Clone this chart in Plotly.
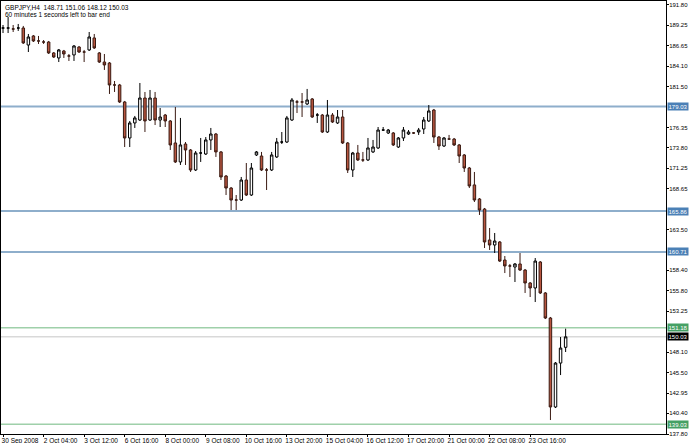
import plotly.graph_objects as go

# ---- data (GBPJPY H4 candles) ----
opens = [188.90, 188.90, 188.78, 188.90, 188.90, 186.76, 187.90, 187.27, 187.14, 187.14,
         185.76, 185.13, 186.01, 185.38, 185.51, 186.51, 185.88, 186.14, 187.65, 185.76,
         184.62, 184.50, 181.73, 181.73, 179.59, 175.06, 176.95, 177.32, 180.09, 177.32,
         180.09, 177.32, 177.95, 177.20, 174.43, 172.04, 174.30, 173.55, 171.03, 173.17,
         173.04, 174.81, 175.56, 173.30, 170.27, 168.76, 167.25, 167.25, 169.77, 167.88,
         172.92, 172.79, 171.03, 171.03, 172.67, 174.55, 174.55, 177.32, 179.59, 179.59,
         179.34, 179.97, 177.95, 177.95, 175.81, 177.95, 176.95, 177.70, 174.43, 171.03,
         173.17, 172.29, 172.29, 173.30, 173.80, 176.06, 175.69, 175.69, 173.92, 175.06,
         175.56, 175.69, 175.81, 176.19, 177.20, 178.58, 175.18, 174.05, 174.93, 174.93,
         174.18, 172.92, 171.28, 169.15, 167.38, 166.12, 162.22, 161.59, 161.97, 159.70,
         158.95, 158.82, 159.20, 158.44, 156.81, 156.18, 159.45, 155.55, 152.40, 141.20,
         146.73, 148.71]
highs = [189.28, 190.29, 189.28, 189.41, 189.16, 188.15, 188.02, 187.90, 187.39, 187.27,
         185.88, 186.26, 186.14, 185.63, 186.76, 186.64, 186.14, 188.40, 188.15, 185.88,
         185.63, 184.62, 182.23, 181.86, 179.72, 177.20, 177.83, 181.98, 180.85, 181.10,
         180.85, 178.83, 178.08, 177.32, 178.96, 177.58, 174.55, 173.67, 173.42, 175.06,
         175.18, 176.32, 175.69, 173.42, 170.40, 168.89, 167.88, 170.15, 171.91, 171.91,
         173.42, 173.30, 171.28, 173.30, 175.06, 175.81, 177.83, 180.09, 179.84, 180.72,
         181.23, 180.09, 178.20, 178.08, 179.84, 178.20, 178.58, 178.58, 174.55, 173.30,
         174.18, 173.30, 175.06, 174.81, 176.44, 176.44, 176.19, 175.81, 175.18, 176.44,
         176.06, 175.81, 176.32, 177.70, 179.21, 178.71, 175.31, 175.18, 175.44, 175.06,
         174.30, 173.04, 171.41, 170.78, 167.50, 166.25, 163.73, 163.10, 162.09, 160.20,
         159.20, 159.32, 160.58, 158.57, 156.93, 159.95, 159.57, 155.67, 152.53, 146.86,
         150.01, 151.06]
lows = [188.27, 188.27, 188.40, 188.53, 186.89, 185.88, 187.14, 186.89, 186.89, 185.63,
        185.13, 184.62, 185.13, 184.75, 184.75, 185.76, 184.62, 186.01, 186.26, 184.50,
        183.62, 180.60, 180.85, 179.46, 173.92, 173.92, 176.32, 177.20, 175.81, 177.20,
        176.69, 176.44, 176.44, 173.55, 171.91, 171.66, 171.66, 170.78, 170.90, 172.04,
        172.92, 173.55, 172.67, 169.77, 167.88, 165.99, 165.99, 167.13, 167.76, 167.76,
        172.79, 170.90, 168.51, 170.90, 172.54, 174.30, 174.43, 177.20, 178.20, 177.70,
        179.21, 177.58, 176.95, 175.69, 175.69, 176.95, 176.82, 174.30, 170.65, 170.15,
        172.16, 172.04, 172.16, 173.17, 173.67, 175.94, 175.56, 174.05, 173.80, 174.68,
        175.44, 175.56, 175.44, 175.56, 177.07, 174.43, 173.55, 173.92, 174.81, 174.05,
        171.91, 170.78, 168.76, 167.00, 165.37, 161.21, 160.96, 160.58, 159.45, 158.06,
        157.56, 156.93, 158.32, 155.55, 155.04, 154.41, 155.42, 152.27, 139.56, 141.07,
        145.22, 148.12]
closes = [188.90, 188.90, 188.78, 188.90, 187.02, 187.77, 187.27, 187.27, 187.14, 185.76,
          185.25, 186.14, 185.63, 185.38, 186.64, 185.88, 185.88, 187.77, 186.39, 184.62,
          184.25, 181.73, 181.73, 179.59, 175.06, 176.95, 177.58, 180.09, 177.20, 180.09,
          177.32, 177.70, 177.20, 174.18, 172.04, 174.18, 173.55, 171.03, 173.17, 173.17,
          174.81, 175.56, 173.30, 170.15, 168.76, 167.25, 167.25, 169.77, 167.88, 171.28,
          173.30, 171.03, 171.03, 172.92, 174.55, 174.55, 177.58, 179.84, 179.59, 179.59,
          179.84, 177.70, 177.95, 175.81, 177.95, 177.07, 177.70, 174.43, 171.03, 173.17,
          172.29, 172.29, 173.80, 173.92, 176.06, 176.06, 176.06, 174.18, 175.06, 176.06,
          175.81, 175.69, 176.06, 177.32, 178.46, 175.18, 174.05, 175.06, 174.93, 174.18,
          172.79, 171.28, 169.02, 167.25, 165.99, 161.97, 161.59, 162.09, 159.57, 158.95,
          158.95, 159.20, 158.44, 156.81, 156.18, 159.57, 155.55, 152.40, 141.20, 146.73,
          148.62, 150.03]
bar_index = list(range(len(opens)))

x_tick_bars = [0, 8, 16, 24, 32, 40, 48, 56, 64, 72, 80, 88, 96, 104]
x_tick_labels = ["30 Sep 2008", "2 Oct 04:00", "3 Oct 12:00", "6 Oct 16:00", "8 Oct 00:00",
                 "9 Oct 08:00", "10 Oct 16:00", "13 Oct 20:00", "15 Oct 04:00", "16 Oct 12:00",
                 "17 Oct 20:00", "21 Oct 00:00", "22 Oct 08:00", "23 Oct 16:00"]
y_tick_values = [191.80, 189.25, 186.65, 184.10, 181.50, 176.35, 173.80, 171.25, 168.65,
                 163.50, 158.40, 155.80, 153.25, 148.10, 145.50, 142.95, 140.40, 137.80]

level_prices = [179.03, 165.86, 160.71, 151.18, 150.03, 139.03]
level_kinds = ["blue", "blue", "blue", "green", "bid", "green"]

title_line1 = "GBPJPY,H4  148.71 151.06 148.12 150.03"
title_line2 = "60 minutes 1 seconds left to bar end"

# ---- styles ----
FONT = "Liberation Sans"
line_colors = {"blue": "#8eaecb", "green": "#9fd0aa", "bid": "#c6c6c6"}
line_widths = {"blue": 2, "green": 1.5, "bid": 1}
box_colors = {"blue": "#4b80b6", "green": "#45a064", "bid": "#000000"}

fig = go.Figure()
fig.add_trace(go.Candlestick(
    x=bar_index, open=opens, high=highs, low=lows, close=closes,
    increasing=dict(fillcolor="#ffffff", line=dict(color="#000000", width=1)),
    decreasing=dict(fillcolor="#b8553f", line=dict(color="#3a1a12", width=1)),
    whiskerwidth=0, hoverinfo="skip", showlegend=False,
))

shapes = []
annotations = []
for p, k in zip(level_prices, level_kinds):
    shapes.append(dict(type="line", xref="paper", x0=0, x1=1, yref="y", y0=p, y1=p,
                       line=dict(color=line_colors[k], width=line_widths[k]), layer="below"))
    annotations.append(dict(xref="paper", x=1, xanchor="left", xshift=1, yref="y", y=p,
                            yanchor="middle", text=f"{p:.2f}", showarrow=False,
                            bgcolor=box_colors[k], borderpad=0.5,
                            font=dict(family=FONT, size=6, color="#ffffff")))

annotations.append(dict(xref="paper", x=0, xanchor="left", xshift=2, yref="paper", y=1,
                        yanchor="top", yshift=-1, text=title_line1, showarrow=False,
                        font=dict(family=FONT, size=6.5, color="#000000")))
annotations.append(dict(xref="paper", x=0, xanchor="left", xshift=2, yref="paper", y=1,
                        yanchor="top", yshift=-8, text=title_line2, showarrow=False,
                        font=dict(family=FONT, size=6.5, color="#000000")))

fig.update_layout(
    width=690, height=443,
    margin=dict(l=1, r=24, t=1, b=9, autoexpand=False),
    paper_bgcolor="#ffffff", plot_bgcolor="#ffffff",
    showlegend=False, shapes=shapes, annotations=annotations,
    font=dict(family=FONT, size=6.5, color="#000000"),
)
fig.update_xaxes(
    range=[-0.4, 130.8], tickmode="array", tickvals=x_tick_bars, ticktext=x_tick_labels,
    ticks="outside", ticklen=2, tickcolor="#000000", ticklabelshift=17, ticklabelstandoff=-2,
    showgrid=False, zeroline=False, showline=True, linecolor="#000000", linewidth=1,
    mirror=True, rangeslider=dict(visible=False), automargin=False,
    tickfont=dict(family=FONT, size=6.5, color="#000000"),
)
fig.update_yaxes(
    side="right", range=[137.80, 192.30], tickmode="array", tickvals=y_tick_values,
    tickformat=".2f", ticks="outside", ticklen=2, tickcolor="#000000",
    showgrid=False, zeroline=False, showline=True, linecolor="#000000", linewidth=1,
    mirror=True, automargin=False, ticklabelstandoff=-1,
    tickfont=dict(family=FONT, size=6, color="#000000"),
)

fig.write_html("out.html", config={"displayModeBar": False},
               post_script="document.body.style.margin='0';document.body.style.padding='0';")
